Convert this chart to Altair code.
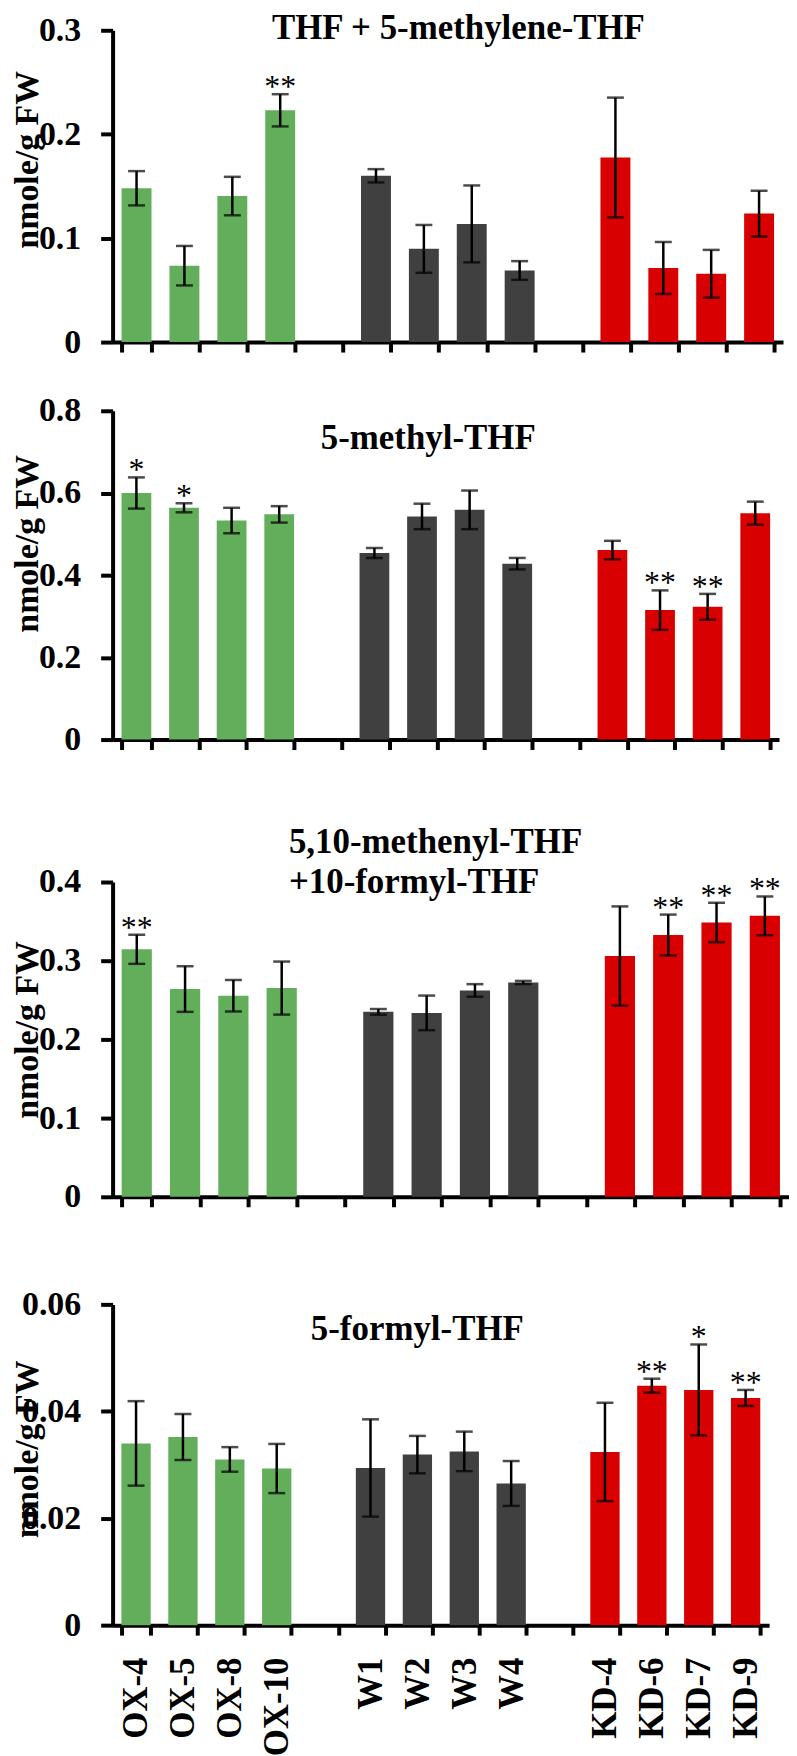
import altair as alt
import pandas as pd

categories = ["OX-4", "OX-5", "OX-8", "OX-10", " ", "W1", "W2", "W3", "W4", "  ",
              "KD-4", "KD-6", "KD-7", "KD-9"]
samples = ["OX-4", "OX-5", "OX-8", "OX-10", "W1", "W2", "W3", "W4",
           "KD-4", "KD-6", "KD-7", "KD-9"]
groups = ["OX"] * 4 + ["W"] * 4 + ["KD"] * 4
group_names = ["OX", "W", "KD"]
group_colors = ["#63AE5B", "#404040", "#D80000"]

titles = [["THF + 5-methylene-THF"], ["5-methyl-THF"],
          ["5,10-methenyl-THF", "+10-formyl-THF"], ["5-formyl-THF"]]
y_title = "nmole/g FW"

p1_mean = [0.148, 0.0735, 0.1405, 0.223, 0.160, 0.0897, 0.1137, 0.0689, 0.1776, 0.0713, 0.0657, 0.1236]
p1_err = [0.0165, 0.019, 0.0185, 0.0155, 0.0064, 0.023, 0.037, 0.009, 0.0576, 0.025, 0.023, 0.022]
p1_sig = ["", "", "", "**", "", "", "", "", "", "", "", ""]
p1_ticks = [0, 0.1, 0.2, 0.3]

p2_mean = [0.600, 0.564, 0.533, 0.548, 0.454, 0.543, 0.559, 0.428, 0.461, 0.315, 0.323, 0.551]
p2_err = [0.038, 0.011, 0.031, 0.020, 0.012, 0.031, 0.047, 0.014, 0.0226, 0.048, 0.0315, 0.028]
p2_sig = ["*", "*", "", "", "", "", "", "", "", "**", "**", ""]
p2_ticks = [0, 0.2, 0.4, 0.6, 0.8]

p3_mean = [0.3145, 0.264, 0.2555, 0.2652, 0.235, 0.2337, 0.2622, 0.2723, 0.306, 0.3326, 0.3486, 0.357]
p3_err = [0.0185, 0.029, 0.020, 0.0337, 0.0036, 0.022, 0.008, 0.002, 0.063, 0.026, 0.025, 0.0246]
p3_sig = ["**", "", "", "", "", "", "", "", "", "**", "**", "**"]
p3_ticks = [0, 0.1, 0.2, 0.3, 0.4]

p4_mean = [0.0340, 0.0352, 0.0310, 0.0293, 0.0294, 0.0319, 0.0325, 0.0265, 0.0324, 0.0448, 0.0440, 0.0425]
p4_err = [0.0079, 0.0043, 0.0023, 0.0046, 0.0091, 0.0035, 0.0037, 0.0042, 0.0092, 0.0013, 0.0085, 0.0015]
p4_sig = ["", "", "", "", "", "", "", "", "", "**", "*", "**"]
p4_ticks = [0, 0.02, 0.04, 0.06]

SERIF = "Liberation Serif"


def panel(mean, err, sig, ticks, decimals, title_lines, title_x, title_y0,
          ytitle_y, width, height, show_labels, spacer_y=None):
    df = pd.DataFrame({
        "sample": samples, "group": groups, "mean": mean, "err": err, "sig": sig,
    })
    df["lo"] = df["mean"] - df["err"]
    df["hi"] = df["mean"] + df["err"]
    ymax = ticks[-1]
    x = alt.X(
        "sample:N", sort=categories,
        scale=alt.Scale(domain=categories, paddingInner=0.375, paddingOuter=0.1875),
        axis=alt.Axis(
            title=None, tickBand="extent", labels=show_labels,
            labelAngle=270, labelAlign="right", labelBaseline="middle",
            labelFont=SERIF, labelFontWeight="bold", labelFontSize=35,
            labelColor="black", labelPadding=22,
            domainColor="black", domainWidth=4, tickColor="black",
            tickWidth=4, tickSize=10, grid=False,
        ),
    )
    y_scale = alt.Scale(domain=[0, ymax], nice=False, zero=True)
    label_expr = f"datum.value == 0 ? '0' : format(datum.value, '.{decimals}f')"
    y = alt.Y(
        "mean:Q", scale=y_scale,
        axis=alt.Axis(
            title=y_title, values=ticks, labelExpr=label_expr,
            labelFont=SERIF, labelFontWeight="bold", labelFontSize=34,
            labelColor="black", labelPadding=20,
            titleFont=SERIF, titleFontWeight="bold", titleFontSize=34,
            titleColor="black", titleX=-85, titleY=ytitle_y, titleAngle=270,
            titleAlign="center", titleBaseline="middle",
            domainColor="black", domainWidth=4, tickColor="black",
            tickWidth=4, tickSize=12, grid=False,
        ),
    )
    bars = alt.Chart(df).mark_bar().encode(
        x=x, y=y,
        color=alt.Color("group:N", scale=alt.Scale(domain=group_names, range=group_colors),
                        legend=None),
    )
    rules = alt.Chart(df).mark_rule(color="black", strokeWidth=2.5).encode(
        x=alt.X("sample:N", sort=categories),
        y=alt.Y("lo:Q", scale=y_scale), y2="hi:Q",
    )
    caps_hi = alt.Chart(df).mark_tick(color="black", thickness=2.5, size=17).encode(
        x=alt.X("sample:N", sort=categories), y=alt.Y("hi:Q", scale=y_scale),
    )
    caps_lo = alt.Chart(df).mark_tick(color="black", thickness=2.5, size=17).encode(
        x=alt.X("sample:N", sort=categories), y=alt.Y("lo:Q", scale=y_scale),
    )
    stars = alt.Chart(df[df["sig"] != ""]).mark_text(
        font=SERIF, fontSize=32, color="black", baseline="alphabetic", dy=3,
    ).encode(
        x=alt.X("sample:N", sort=categories), y=alt.Y("hi:Q", scale=y_scale),
        text="sig:N",
    )
    layers = [bars, rules, caps_hi, caps_lo, stars]
    for i, line in enumerate(title_lines):
        t = alt.Chart(pd.DataFrame({"t": [line]})).mark_text(
            font=SERIF, fontWeight="bold", fontSize=35, color="black",
            align="left", baseline="middle",
        ).encode(
            x=alt.value(title_x), y=alt.value(title_y0 + 40 * i), text="t:N",
        )
        layers.append(t)
    if spacer_y is not None:
        sp = alt.Chart(pd.DataFrame({"a": [0]})).mark_rule(
            color="white", strokeWidth=1,
        ).encode(
            x=alt.value(0), x2=alt.value(2),
            y=alt.value(spacer_y), y2=alt.value(spacer_y),
        )
        layers.append(sp)
    return alt.layer(*layers).properties(width=width, height=height)


c1 = panel(p1_mean, p1_err, p1_sig, p1_ticks, 1, titles[0], 160, -2, 129.5,
           673, 313, False)
c2 = panel(p2_mean, p2_err, p2_sig, p2_ticks, 1, titles[1], 209, 27, 133,
           669, 330, False)
c3 = panel(p3_mean, p3_err, p3_sig, p3_ticks, 1, titles[2], 177, -40, 148,
           679, 316, False, spacer_y=-90)
c4 = panel(p4_mean, p4_err, p4_sig, p4_ticks, 2, titles[3], 199, 25, 145,
           659, 322, True, spacer_y=-55)

chart = alt.vconcat(c1, c2, c3, c4, spacing=35).properties(
    padding={"left": 3, "top": 0, "right": 0, "bottom": 0}, background="white",
).configure_view(stroke=None)

chart.save("out.html", embed_options={"renderer": "svg", "actions": False})
